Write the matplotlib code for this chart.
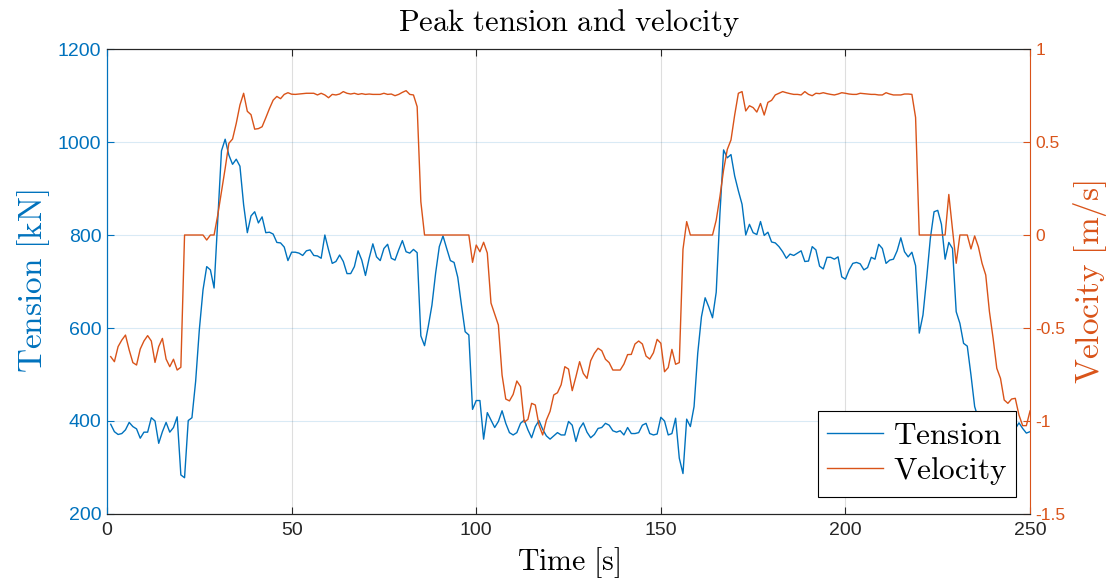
import numpy as np
import matplotlib
matplotlib.use("Agg")
import matplotlib.pyplot as plt

plt.rcParams['mathtext.fontset'] = 'cm'
plt.rcParams['axes.unicode_minus'] = False
plt.rcParams['font.family'] = ['Liberation Sans', 'DejaVu Sans']

# data (one sample per second)
time = np.arange(1, 251)

tension = [
    393, 377, 371, 373, 381, 397, 388, 383, 363, 376,
    376, 407, 400, 352, 377, 397, 376, 386, 409, 284,
    278, 401, 407, 485, 596, 682, 732, 725, 686, 835,
    981, 1006, 972, 952, 963, 948, 865, 805, 841, 850,
    826, 839, 805, 806, 802, 784, 783, 774, 745, 763,
    763, 761, 756, 766, 768, 756, 755, 750, 800, 768,
    739, 743, 757, 743, 717, 717, 732, 766, 746, 713,
    750, 781, 753, 745, 771, 780, 750, 746, 768, 788,
    764, 761, 769, 762, 583, 562, 603, 649, 718, 775,
    798, 771, 745, 741, 709, 649, 592, 585, 425, 444,
    444, 361, 418, 402, 386, 399, 422, 395, 375, 370,
    375, 395, 402, 381, 364, 388, 401, 382, 368, 361,
    368, 375, 370, 370, 399, 391, 356, 384, 396, 376,
    364, 371, 384, 386, 395, 391, 379, 376, 379, 370,
    386, 373, 373, 375, 391, 395, 373, 370, 372, 408,
    400, 370, 373, 406, 320, 287, 404, 388, 431, 546,
    624, 665, 645, 622, 677, 845, 983, 966, 973, 927,
    895, 866, 800, 823, 805, 801, 829, 799, 806, 785,
    783, 775, 764, 750, 759, 756, 761, 766, 743, 744,
    775, 768, 733, 727, 752, 752, 748, 753, 710, 705,
    725, 739, 741, 738, 725, 730, 752, 748, 780, 771,
    739, 746, 748, 766, 794, 764, 753, 763, 734, 589,
    628, 707, 793, 850, 853, 823, 748, 784, 771, 635,
    610, 567, 561, 499, 431, 405, 390, 385, 378, 390,
    380, 372, 385, 378, 370, 383, 396, 384, 374, 377,
]

velocity = [
    -0.654, -0.681, -0.600, -0.565, -0.538, -0.618, -0.686, -0.699, -0.613, -0.570,
    -0.541, -0.570, -0.685, -0.600, -0.556, -0.667, -0.708, -0.668, -0.726, -0.711,
    0.0, 0.0, 0.0, 0.0, 0.0, 0.0, -0.027, 0.0, 0.0, 0.108,
    0.233, 0.358, 0.493, 0.516, 0.600, 0.699, 0.762, 0.665, 0.647, 0.569,
    0.572, 0.582, 0.630, 0.680, 0.725, 0.745, 0.733, 0.756, 0.765, 0.757,
    0.756, 0.758, 0.760, 0.762, 0.762, 0.762, 0.753, 0.762, 0.753, 0.738,
    0.756, 0.753, 0.758, 0.771, 0.762, 0.758, 0.762, 0.756, 0.760, 0.756,
    0.758, 0.756, 0.756, 0.756, 0.762, 0.756, 0.758, 0.749, 0.756, 0.767,
    0.776, 0.756, 0.753, 0.690, 0.179, 0.0, 0.0, 0.0, 0.0, 0.0,
    0.0, 0.0, 0.0, 0.0, 0.0, 0.0, 0.0, 0.0, -0.147, -0.054,
    -0.090, -0.039, -0.097, -0.366, -0.425, -0.484, -0.753, -0.882, -0.892, -0.857,
    -0.785, -0.815, -1.007, -0.991, -0.905, -0.914, -1.022, -1.075, -0.995, -0.948,
    -0.860, -0.848, -0.805, -0.708, -0.721, -0.837, -0.762, -0.681, -0.744, -0.771,
    -0.676, -0.636, -0.609, -0.622, -0.668, -0.686, -0.726, -0.726, -0.726, -0.694,
    -0.643, -0.642, -0.586, -0.570, -0.586, -0.651, -0.667, -0.633, -0.561, -0.582,
    -0.735, -0.713, -0.615, -0.695, -0.686, -0.077, 0.072, 0.0, 0.0, 0.0,
    0.0, 0.0, 0.0, 0.0, 0.080, 0.206, 0.350, 0.460, 0.511, 0.645,
    0.762, 0.771, 0.667, 0.695, 0.685, 0.661, 0.707, 0.645, 0.713, 0.724,
    0.753, 0.762, 0.771, 0.765, 0.760, 0.756, 0.756, 0.753, 0.771, 0.756,
    0.749, 0.762, 0.760, 0.765, 0.760, 0.756, 0.753, 0.758, 0.765, 0.762,
    0.758, 0.756, 0.756, 0.762, 0.760, 0.758, 0.756, 0.756, 0.753, 0.753,
    0.765, 0.758, 0.753, 0.753, 0.753, 0.758, 0.758, 0.756, 0.632, 0.0,
    0.0, 0.0, 0.0, 0.0, 0.0, 0.0, 0.0, 0.218, 0.030, -0.152,
    0.0, 0.0, 0.0, -0.075, -0.005, -0.063, -0.152, -0.215, -0.412, -0.556,
    -0.717, -0.771, -0.887, -0.905, -0.882, -0.878, -0.968, -1.025, -1.025, -0.946,
]

blue = '#0072BD'
orange = '#D95319'
dark = '#262626'

fig = plt.figure(figsize=(11.09, 5.80), dpi=100)
ax = fig.add_axes([0.0965, 0.1138, 0.8323, 0.8017])
ax2 = ax.twinx()

l1, = ax.plot(time, tension, color=blue, lw=1.0, label=r'$\mathrm{Tension}$')
l2, = ax2.plot(time, velocity, color=orange, lw=1.0, label=r'$\mathrm{Velocity}$')

ax.set_xlim(0, 250)
ax.set_ylim(200, 1200)
ax2.set_ylim(-1.5, 1)
ax.set_xticks([0, 50, 100, 150, 200, 250])
ax.set_yticks([200, 400, 600, 800, 1000, 1200])
ax2.set_yticks([-1.5, -1, -0.5, 0, 0.5, 1])
ax2.set_yticklabels(['-1.5', '-1', '-0.5', '0', '0.5', '1'])

# grid: vertical grey, horizontal follows left axis colour
ax.xaxis.grid(True, color=dark, alpha=0.15, lw=0.8)
ax.yaxis.grid(True, color=blue, alpha=0.15, lw=0.8)
ax.set_axisbelow(True)

ax.tick_params(axis='x', direction='in', top=True, length=5, width=0.8,
               colors=dark, labelsize=14, pad=6)
ax.tick_params(axis='y', direction='in', length=5, width=0.8,
               colors=blue, labelsize=14, pad=4)
ax2.tick_params(axis='y', direction='in', length=5, width=0.8,
                colors=orange, labelsize=12.5, pad=4)

for s in ['top', 'bottom']:
    ax.spines[s].set_color(dark)
    ax2.spines[s].set_color(dark)
ax.spines['left'].set_color(blue)
ax2.spines['left'].set_color(blue)
ax2.spines['right'].set_color(orange)
ax.spines['right'].set_visible(False)
for a in (ax, ax2):
    for s in a.spines.values():
        s.set_linewidth(0.8)

ax.set_title(r'$\mathrm{Peak\ tension\ and\ velocity}$', fontsize=22, pad=13)
ax.set_xlabel(r'$\mathrm{Time\ [s]}$', fontsize=21.5, labelpad=4)
ax.set_ylabel(r'$\mathrm{Tension\ [kN]}$', fontsize=24, color=blue, labelpad=4)
ax2.set_ylabel(r'$\mathrm{Velocity\ [m/s]}$', fontsize=24, color=orange, labelpad=4)

leg = ax2.legend(handles=[l1, l2], loc='lower right', bbox_to_anchor=(0.985, 0.037),
                 borderaxespad=0, fontsize=22.5, fancybox=False, framealpha=1,
                 edgecolor='black', handlelength=1.8, handletextpad=0.3,
                 borderpad=0.3, labelspacing=0.15)
leg.get_frame().set_linewidth(0.8)

fig.savefig('out.png', dpi=100)
